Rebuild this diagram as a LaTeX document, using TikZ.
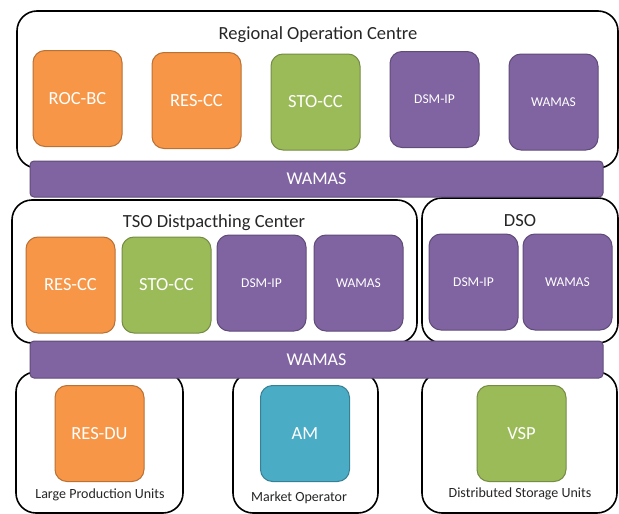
\documentclass[tikz,border=0pt]{standalone}
\usepackage{fontspec}
\setmainfont{Carlito}
\usepackage{xcolor}
\usetikzlibrary{positioning}
\definecolor{unitorange}{HTML}{F79646}
\definecolor{unitgreen}{HTML}{9BBB59}
\definecolor{unitpurple}{HTML}{8064A2}
\definecolor{unitteal}{HTML}{4BACC6}

\begin{document}
\begin{tikzpicture}[
    x=1pt, y=-1pt,
    frame/.style={draw=black, line width=1.6pt, rounded corners=20pt, fill=white},
    title/.style={font=\fontsize{18.5}{20}\selectfont, text=black!85},
    caption/.style={font=\fontsize{14}{16}\selectfont, text=black!85},
    unit/.style={draw=#1!75!black, fill=#1, line width=1pt, rounded corners=12pt, minimum width=89pt, minimum height=96pt, text=white, font=\fontsize{18.5}{20}\selectfont},
    smallunit/.style={unit=#1, font=\fontsize{13.5}{15}\selectfont},
    bus/.style={draw=unitpurple!75!black, fill=unitpurple, line width=1pt, rounded corners=4pt, minimum width=573pt, minimum height=36pt, text=white, font=\fontsize{18}{20}\selectfont}
  ]
    \useasboundingbox (0,0) rectangle (619,514);
    % containers
    \node[frame, minimum width=601pt, minimum height=157pt] (roc) at (317.5,89.5) {};
    \node[frame, minimum width=405pt, minimum height=143pt] (tso) at (214.5,271.5) {};
    \node[frame, minimum width=196pt, minimum height=145pt] (dso) at (520,270.5) {};
    \node[frame, minimum width=167pt, minimum height=141pt] (lpu) at (99.5,442.5) {};
    \node[frame, minimum width=145pt, minimum height=141pt] (mo)  at (305.5,442.5) {};
    \node[frame, minimum width=195pt, minimum height=141pt] (dsu) at (519.5,442.5) {};
    % titles
    \node[title] (roctitle) at (318,35) {Regional Operation Centre};
    \node[title] (tsotitle) at (214,223) {TSO Distpacthing Center};
    \node[title] (dsotitle) at (520,221) {DSO};
    \node[caption] (lputext) at (100,495) {Large Production Units};
    \node[caption] (motext)  at (299,498) {Market Operator};
    \node[caption] (dsutext) at (520,494) {Distributed Storage Units};
    % regional operation centre
    \node[unit=unitorange] (rocbc) at (77.5,98.5) {ROC-BC};
    \node[unit=unitorange] (rocres) at (196.5,100.5) {RES-CC};
    \node[unit=unitgreen] (rocsto) at (315.5,102) {STO-CC};
    \node[smallunit=unitpurple] (rocdsm) at (434.5,99.5) {DSM-IP};
    \node[smallunit=unitpurple] (rocwamas) at (553.5,102) {WAMAS};
    % TSO and DSO
    \node[unit=unitorange] (tsores) at (70.5,285) {RES-CC};
    \node[unit=unitgreen] (tsosto) at (166.5,285) {STO-CC};
    \node[smallunit=unitpurple] (tsodsm) at (261.5,283) {DSM-IP};
    \node[smallunit=unitpurple] (tsowamas) at (358.5,283) {WAMAS};
    \node[smallunit=unitpurple] (dsodsm) at (473.5,282) {DSM-IP};
    \node[smallunit=unitpurple] (dsowamas) at (567.5,282) {WAMAS};
    % field level
    \node[unit=unitorange] (resdu) at (99.5,433.5) {RES-DU};
    \node[unit=unitteal] (am) at (305,433.5) {AM};
    \node[unit=unitgreen] (vsp) at (521.5,433.5) {VSP};
    % communication buses
    \node[bus] (bustop) at (316.5,179) {WAMAS};
    \node[bus, minimum height=37pt] (busbottom) at (316.5,359.5) {WAMAS};
\end{tikzpicture}
\end{document}
